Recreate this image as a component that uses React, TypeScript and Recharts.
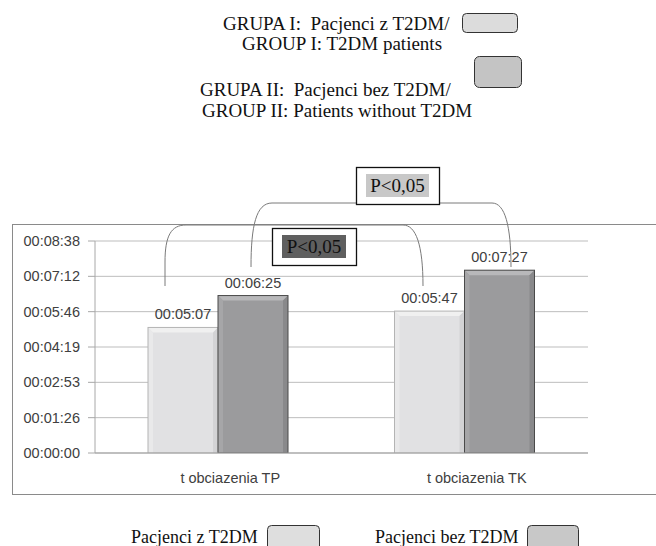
import React from 'react';
import { BarChart, Bar, XAxis, YAxis, CartesianGrid, LabelList } from 'recharts';

const categories = ['t obciazenia TP', 't obciazenia TK'];
const group1Seconds = [307, 347];
const group2Seconds = [385, 447];
const yTickSeconds = [0, 86.4, 172.8, 259.2, 345.6, 432, 518.4];
const seriesNames = ['Pacjenci z T2DM', 'Pacjenci bez T2DM'];
const topLegendLines = [
  'GRUPA I:\u00A0 Pacjenci z T2DM/',
  'GROUP I: T2DM patients',
  'GRUPA II:\u00A0 Pacjenci bez T2DM/',
  'GROUP II: Patients without T2DM',
];
const pLabel = 'P<0,05';

const data = categories.map((c, i) => ({ category: c, g1: group1Seconds[i], g2: group2Seconds[i] }));

const fmt = (v: any) => {
  const t = Math.round(Number(v));
  const h = Math.floor(t / 3600);
  const m = Math.floor((t % 3600) / 60);
  const s = t % 60;
  return [h, m, s].map((x) => String(x).padStart(2, '0')).join(':');
};

const SANS = 'Liberation Sans, Arial, sans-serif';
const SERIF = 'Liberation Serif, Times New Roman, serif';

type BevelColors = { main: string; top: string; left: string; right: string; stroke: string };
const makeBevel = (c: BevelColors) => (props: any) => {
  const { x, y, width: w, height: h } = props;
  if (!h || h <= 0) return <g />;
  const b = 5;
  return (
    <g>
      <rect x={x} y={y} width={w} height={h} fill={c.main} />
      <polygon points={`${x},${y} ${x + w},${y} ${x + w - b},${y + b} ${x + b},${y + b}`} fill={c.top} />
      <polygon points={`${x},${y} ${x + b},${y + b} ${x + b},${y + h} ${x},${y + h}`} fill={c.left} />
      <polygon points={`${x + w},${y} ${x + w - b},${y + b} ${x + w - b},${y + h} ${x + w},${y + h}`} fill={c.right} />
      <rect x={x} y={y} width={w} height={h} fill="none" stroke={c.stroke} strokeWidth={1} />
    </g>
  );
};

const LightBar = makeBevel({ main: '#e1e1e3', top: '#f0f0f0', left: '#e9e9ea', right: '#d3d3d5', stroke: '#b4b4b4' });
const DarkBar = makeBevel({ main: '#9b9b9d', top: '#b8b8ba', left: '#a6a6a8', right: '#89898b', stroke: '#4a4a4a' });

const CatTick = (props: any) => {
  const { x, y, payload } = props;
  return (
    <text x={x + 12} y={y + 30} textAnchor="middle" fill="#404040" fontSize={14.5} fontFamily={SANS}>
      {payload.value}
    </text>
  );
};

const Overlay = () => (
  <svg width={656} height={546} style={{ position: 'absolute', left: 0, top: 0, pointerEvents: 'none' }}>
    {/* chart frame */}
    <rect x={12.5} y={224.5} width={660} height={270} fill="none" stroke="#8a8a8a" strokeWidth={1} />

    {/* top legend */}
    <g fontFamily={SERIF} fontSize={19} fill="#111">
      <text x={223} y={30}>{topLegendLines[0]}</text>
      <text x={242} y={50}>{topLegendLines[1]}</text>
      <text x={200} y={95.5}>{topLegendLines[2]}</text>
      <text x={202} y={116.5}>{topLegendLines[3]}</text>
    </g>
    <rect x={462.5} y={13.5} width={55} height={19} rx={4} fill="#dcdcdc" stroke="#333" />
    <rect x={474.5} y={56.5} width={47} height={31} rx={5} fill="#c4c4c4" stroke="#333" />

    {/* brackets */}
    <path d="M165,286 L165,262 C165,236 171,225 186,225 L403,225 C416,225 423,245 423,286" fill="none" stroke="#7a7a7a" strokeWidth={1} />
    <path d="M251,267 C251,226 256,203 272,203 L492,203 C505,203 511,226 511,267" fill="none" stroke="#7a7a7a" strokeWidth={1} />

    {/* upper P box */}
    <rect x={356.5} y={167.5} width={83} height={37} fill="#fff" stroke="#111" strokeWidth={1.3} />
    <rect x={366} y={174} width={63} height={23} fill="#c8c8c8" />
    <text x={397.5} y={192} textAnchor="middle" fontFamily={SERIF} fontSize={19} fill="#111">{pLabel}</text>

    {/* lower P box */}
    <rect x={272.5} y={228.5} width={84} height={37} fill="#fff" stroke="#111" strokeWidth={1.3} />
    <rect x={282} y={235} width={64} height={23} fill="#5f5f5f" />
    <text x={314} y={253} textAnchor="middle" fontFamily={SERIF} fontSize={19} fill="#111">{pLabel}</text>

    {/* bottom legend */}
    <g fontFamily={SERIF} fontSize={18} fill="#111">
      <text x={131} y={543}>{seriesNames[0]}</text>
      <text x={375} y={543}>{seriesNames[1]}</text>
    </g>
    <rect x={267.5} y={525.5} width={52} height={30} rx={4} fill="#dedede" stroke="#333" />
    <rect x={527.5} y={525.5} width={51} height={30} rx={4} fill="#c8c8c8" stroke="#333" />
  </svg>
);

export default function App() {
  return (
    <div style={{ position: 'absolute', left: 0, top: 0, width: 656, height: 546, background: '#fff', overflow: 'hidden' }}>
      <BarChart
        width={656}
        height={546}
        data={data}
        margin={{ top: 241, right: 68, bottom: 63, left: 12 }}
        barGap={0}
      >
        <CartesianGrid xAxisId="cat" vertical={false} stroke="#bdbdbd" />
        <XAxis
          xAxisId="bound"
          type="number"
          domain={[0, 2]}
          ticks={[0, 1, 2]}
          axisLine={false}
          tick={false}
          tickSize={6}
          tickLine={{ stroke: '#a0a0a0' }}
          height={0}
          allowDataOverflow
        />
        <XAxis
          xAxisId="cat"
          dataKey="category"
          height={30}
          tickLine={false}
          tickSize={0}
          tickMargin={0}
          axisLine={{ stroke: '#a0a0a0' }}
          tick={<CatTick />}
          interval={0}
        />
        <YAxis
          domain={[0, 518.4]}
          ticks={yTickSeconds}
          tickFormatter={fmt}
          width={83}
          tickSize={7}
          tickMargin={8}
          interval={0}
          allowDataOverflow
          axisLine={{ stroke: '#a8a8a8' }}
          tickLine={{ stroke: '#a8a8a8' }}
          tick={{ fill: '#404040', fontSize: 14.5, fontFamily: SANS }}
        />
        <Bar xAxisId="cat" dataKey="g1" name={seriesNames[0]} barSize={70} shape={LightBar} isAnimationActive={false}>
          <LabelList dataKey="g1" position="top" offset={8} formatter={fmt} fill="#404040" fontSize={14.5} fontFamily={SANS} />
        </Bar>
        <Bar xAxisId="cat" dataKey="g2" name={seriesNames[1]} barSize={70} shape={DarkBar} isAnimationActive={false}>
          <LabelList dataKey="g2" position="top" offset={8} formatter={fmt} fill="#404040" fontSize={14.5} fontFamily={SANS} />
        </Bar>
      </BarChart>
      <Overlay />
    </div>
  );
}
